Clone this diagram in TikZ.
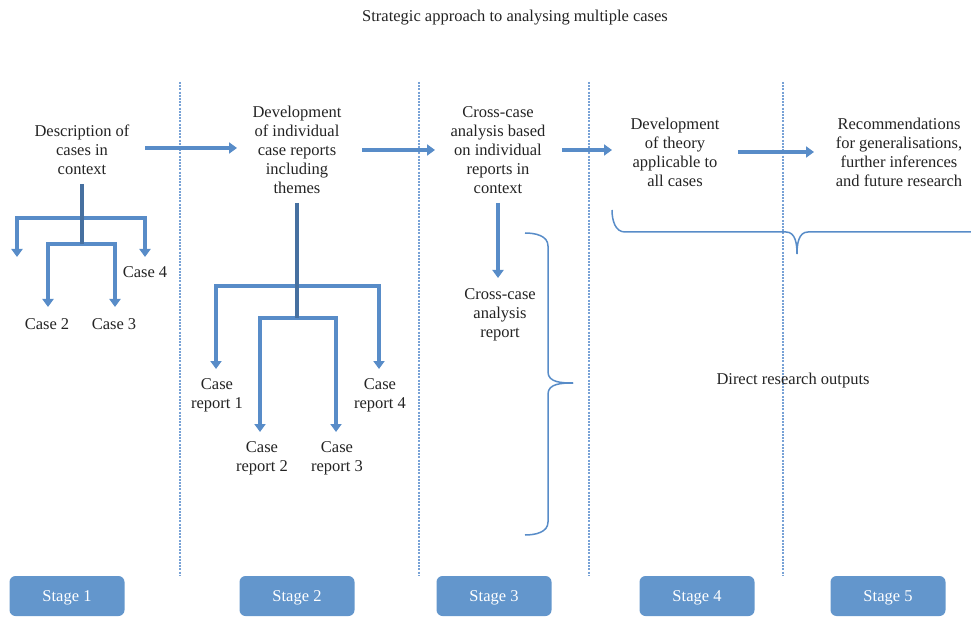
\documentclass[tikz,border=0pt]{standalone}
\usepackage{fontspec}
\setmainfont{Liberation Serif}
\usetikzlibrary{arrows.meta}
\definecolor{flowblue}{RGB}{88,140,200}
\definecolor{stageblue}{RGB}{99,150,204}
\definecolor{sepblue}{RGB}{120,162,214}
\definecolor{txt}{RGB}{35,35,35}
\tikzset{
  lbl/.style={align=center, text=txt, inner sep=0pt, font=\fontsize{16.5}{19}\selectfont},
  flow/.style={draw=flowblue, line width=3.3pt, -{Triangle[width=11pt,length=8pt]}},
  trunk/.style={draw=flowblue!80!black, line width=4.5pt},
  sep/.style={draw=sepblue, line width=1.6pt, dash pattern=on 2pt off 1.2pt},
  brace/.style={draw=flowblue, line width=1.5pt},
  stagebox/.style={fill=stageblue, rounded corners=6pt, minimum width=115pt, minimum height=40pt,
    text=white, font=\fontsize{16.5}{19}\selectfont, inner sep=0pt, text depth=-3pt}
}
\begin{document}
\begin{tikzpicture}[x=1pt,y=-1pt]
\useasboundingbox (0,0) rectangle (971,617);

% title
\node[lbl] (title) at (515,18) {Strategic approach to analysing multiple cases};

% stage separators
\foreach \sx/\nm in {180/s1, 419/s2, 589/s3, 783/s4} {
  \coordinate (\nm top) at (\sx,82);
  \coordinate (\nm bot) at (\sx,576);
  \draw[sep] (\nm top) -- (\nm bot);
}

% stage boxes
\node[stagebox] (st1) at (67,596) {Stage 1};
\node[stagebox] (st2) at (297,596) {Stage 2};
\node[stagebox] (st3) at (494,596) {Stage 3};
\node[stagebox] (st4) at (697,596) {Stage 4};
\node[stagebox] (st5) at (888,596) {Stage 5};

% main steps
\node[lbl] (desc) at (82,150) {Description of\\cases in\\context};
\node[lbl] (dev) at (297,150) {Development\\of individual\\case reports\\including\\themes};
\node[lbl] (cross) at (498,150) {Cross-case\\analysis based\\on individual\\reports in\\context};
\node[lbl] (theory) at (675,152) {Development\\of theory\\applicable to\\all cases};
\node[lbl] (recs) at (899,152) {Recommendations\\for generalisations,\\further inferences\\and future research};

\coordinate (a1s) at (145,148); \coordinate (a1e) at (237,148);
\coordinate (a2s) at (362,150); \coordinate (a2e) at (435,150);
\coordinate (a3s) at (562,150); \coordinate (a3e) at (612,150);
\coordinate (a4s) at (738,152); \coordinate (a4e) at (814,152);
\draw[flow] (a1s) -- (a1e);
\draw[flow] (a2s) -- (a2e);
\draw[flow] (a3s) -- (a3e);
\draw[flow] (a4s) -- (a4e);

% stage 1 tree
\node[lbl] (c4) at (145,272) {Case 4};
\node[lbl] (c2) at (47,324) {Case 2};
\node[lbl] (c3) at (114,324) {Case 3};
\coordinate (t1top) at (82,184);
\coordinate (t1j1) at (82,218);
\coordinate (t1j2) at (82,244);
\coordinate (t1d1) at (17,257);
\coordinate (t1d4) at (145,257);
\coordinate (t1d2) at (48,307);
\coordinate (t1d3) at (115,307);
\draw[flow] (t1j1) -| (t1d1);
\draw[flow] (t1j1) -| (t1d4);
\draw[flow] (t1j2) -| (t1d2);
\draw[flow] (t1j2) -| (t1d3);
\draw[trunk] (t1top) -- (t1j2);

% stage 2 tree
\node[lbl] (r1) at (217,395) {Case\\report 1};
\node[lbl] (r4) at (380,395) {Case\\report 4};
\node[lbl] (r2) at (262,458) {Case\\report 2};
\node[lbl] (r3) at (337,458) {Case\\report 3};
\coordinate (t2top) at (297,203);
\coordinate (t2j1) at (297,286);
\coordinate (t2j2) at (297,318);
\coordinate (t2d1) at (216,369);
\coordinate (t2d4) at (379,369);
\coordinate (t2d2) at (260,432);
\coordinate (t2d3) at (336,432);
\draw[flow] (t2j1) -| (t2d1);
\draw[flow] (t2j1) -| (t2d4);
\draw[flow] (t2j2) -| (t2d2);
\draw[flow] (t2j2) -| (t2d3);
\draw[trunk] (t2top) -- (t2j2);

% stage 3 output
\node[lbl] (crep) at (500,315) {Cross-case\\analysis\\report};
\coordinate (a5s) at (498,203); \coordinate (a5e) at (498,278);
\draw[flow] (a5s) -- (a5e);

% vertical brace
\coordinate (b1top) at (525,233);
\coordinate (b1tip) at (573,383);
\coordinate (b1bot) at (525,535);
\draw[brace] (b1top) to[out=0,in=90] (548,246) -- (548,372) to[out=-90,in=180] (b1tip);
\draw[brace] (b1tip) to[out=180,in=90] (548,394) -- (548,522) to[out=-90,in=0] (b1bot);

% horizontal brace, running off the right edge
\begin{scope}
\clip (0,0) rectangle (971,617);
\coordinate (b2left) at (612,210);
\coordinate (b2tip) at (797,254);
\coordinate (b2right) at (990,232);
\draw[brace] (b2left) to[out=-90,in=180] (625,232) -- (786,232) to[out=0,in=90] (b2tip);
\draw[brace] (b2tip) to[out=90,in=180] (808,232) -- (b2right);
\end{scope}

\node[lbl] (outs) at (793,381) {Direct research outputs};
\end{tikzpicture}
\end{document}
